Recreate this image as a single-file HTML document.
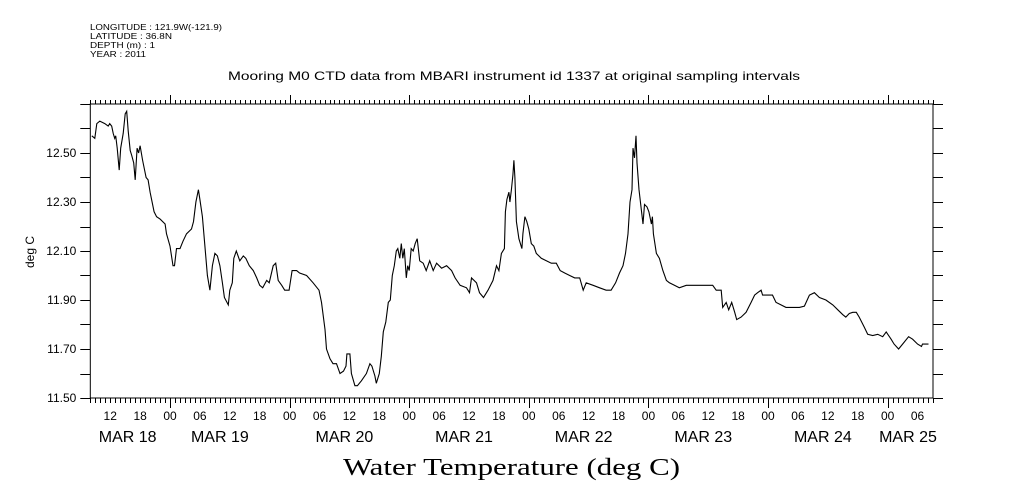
<!DOCTYPE html>
<html><head><meta charset="utf-8"><style>
html,body{margin:0;padding:0;background:#fff;width:1009px;height:504px;overflow:hidden}
svg{display:block}
text{font-family:"Liberation Sans",sans-serif;fill:#000}
</style></head><body>
<svg id="chart" width="1009" height="504" viewBox="0 0 1009 504" xmlns="http://www.w3.org/2000/svg">
<g font-size="8.5">
<text x="90" y="30" textLength="132" lengthAdjust="spacingAndGlyphs">LONGITUDE : 121.9W(-121.9)</text>
<text x="90" y="39" textLength="82" lengthAdjust="spacingAndGlyphs">LATITUDE : 36.8N</text>
<text x="90" y="48" textLength="65" lengthAdjust="spacingAndGlyphs">DEPTH (m) : 1</text>
<text x="90" y="57" textLength="56" lengthAdjust="spacingAndGlyphs">YEAR : 2011</text>
</g>
<text x="228" y="80" font-size="12" textLength="572" lengthAdjust="spacingAndGlyphs">Mooring M0 CTD data from MBARI instrument id 1337 at original sampling intervals</text>
<text transform="translate(34,252) rotate(-90)" font-size="12" text-anchor="middle">deg C</text>
<text x="343" y="475" font-size="24" textLength="337" lengthAdjust="spacingAndGlyphs" style="font-family:'Liberation Serif',serif">Water Temperature (deg C)</text>
<g id="axes"></g>
<g id="series"></g>
</svg>
<script>
// hours since MAR 18 00:00
const hours = [8.3,8.9,9.3,9.9,10.9,11.6,11.9,12.3,12.6,12.9,13.1,13.4,13.8,14.1,14.6,15.0,15.3,15.6,16.0,16.3,16.7,17.0,17.4,17.7,18.0,18.5,18.8,19.2,19.6,20.0,20.4,20.8,21.3,22.0,23.0,23.3,24.0,24.6,24.9,25.3,26.0,26.6,27.3,28.3,28.7,29.2,29.7,30.0,30.5,31.0,31.5,32.0,32.5,33.0,33.5,34.0,34.5,34.9,35.7,36.0,36.5,36.8,37.3,38.0,38.7,39.2,39.9,40.7,41.4,42.0,42.6,43.4,43.9,44.7,45.2,45.7,46.4,47.0,47.9,48.5,49.4,50.0,51.4,52.7,53.9,54.4,55.1,55.4,56.1,56.7,57.4,58.1,58.8,59.3,59.5,60.1,60.4,61.1,61.6,62.4,63.4,64.1,64.5,65.1,65.4,66.0,66.4,66.8,67.3,67.8,68.2,68.6,69.0,69.4,69.7,70.1,70.4,70.7,71.0,71.4,71.7,72.0,72.4,72.8,73.2,73.6,74.1,74.8,75.4,76.1,76.8,77.5,78.5,79.5,80.5,81.2,82.2,83.5,84.1,84.5,85.5,86.1,86.9,87.8,88.8,89.5,90.0,90.5,91.1,91.3,91.6,92.0,92.2,92.5,92.8,93.0,93.2,93.5,94.0,94.6,94.8,95.2,95.6,96.0,96.5,97.0,97.5,98.5,99.5,100.5,101.5,102.3,103.2,104.2,105.2,106.2,106.9,107.5,108.9,110.2,111.5,112.5,113.4,114.2,114.9,115.4,115.9,116.3,116.7,116.9,117.2,117.5,117.7,118.1,118.5,118.9,119.2,119.7,120.1,120.6,120.8,121.0,121.6,122.2,122.9,123.6,124.2,125.2,126.2,127.6,128.9,130.2,131.6,132.9,133.6,134.6,134.9,135.6,136.1,136.7,137.3,137.7,138.6,139.6,140.6,141.3,141.9,142.6,142.9,143.9,144.9,145.6,146.6,147.6,149.0,150.3,151.3,152.3,153.3,154.3,155.6,157.0,158.0,159.0,159.6,160.3,161.0,161.7,162.3,163.3,164.0,165.0,166.0,167.0,167.7,168.7,169.3,170.2,171.0,172.2,173.0,174.0,174.8,175.0,176.2];
const temps = [12.57,12.56,12.62,12.63,12.62,12.61,12.62,12.61,12.58,12.56,12.57,12.52,12.43,12.52,12.58,12.66,12.67,12.59,12.51,12.49,12.46,12.39,12.52,12.50,12.53,12.47,12.44,12.40,12.39,12.34,12.30,12.26,12.24,12.23,12.21,12.17,12.12,12.04,12.04,12.11,12.11,12.14,12.17,12.19,12.22,12.30,12.35,12.31,12.24,12.12,12.00,11.94,12.04,12.09,12.08,12.04,11.97,11.91,11.88,11.94,11.97,12.07,12.10,12.06,12.08,12.07,12.04,12.02,11.99,11.96,11.95,11.98,11.97,12.04,12.05,11.98,11.96,11.94,11.94,12.02,12.02,12.01,12.00,11.97,11.94,11.89,11.78,11.70,11.66,11.64,11.64,11.60,11.61,11.63,11.68,11.68,11.60,11.55,11.55,11.57,11.60,11.64,11.63,11.59,11.56,11.60,11.67,11.77,11.81,11.89,11.90,12.00,12.04,12.10,12.11,12.07,12.13,12.07,12.11,11.99,12.04,12.02,12.11,12.10,12.13,12.15,12.06,12.05,12.02,12.06,12.02,12.05,12.03,12.04,12.02,11.99,11.96,11.95,11.93,11.99,11.97,11.93,11.91,11.94,11.98,12.04,12.02,12.09,12.11,12.26,12.31,12.34,12.30,12.35,12.41,12.47,12.40,12.22,12.15,12.11,12.17,12.24,12.22,12.19,12.13,12.12,12.09,12.07,12.06,12.05,12.05,12.02,12.01,12.00,11.99,11.99,11.94,11.97,11.96,11.95,11.94,11.94,11.97,12.01,12.04,12.09,12.17,12.30,12.35,12.52,12.48,12.57,12.46,12.35,12.28,12.21,12.29,12.28,12.26,12.21,12.24,12.17,12.09,12.07,12.02,11.98,11.97,11.96,11.95,11.96,11.96,11.96,11.96,11.96,11.94,11.94,11.87,11.89,11.86,11.89,11.85,11.82,11.83,11.85,11.89,11.92,11.93,11.94,11.92,11.92,11.92,11.89,11.88,11.87,11.87,11.87,11.875,11.92,11.93,11.91,11.90,11.88,11.86,11.84,11.83,11.845,11.85,11.85,11.83,11.79,11.76,11.755,11.76,11.75,11.77,11.74,11.72,11.70,11.72,11.75,11.74,11.72,11.71,11.72,11.72];
const yTickLabels = ["11.50","11.70","11.90","12.10","12.30","12.50"];
const dayLabels = ["MAR 18","MAR 19","MAR 20","MAR 21","MAR 22","MAR 23","MAR 24","MAR 25"];

const X0=90.3, X1=933, Y0=398, Y1=104;
const H0=8, H1=177.1, V0=11.5, V1=12.7;
const xs = h => X0 + (h-H0)/(H1-H0)*(X1-X0);
const ys = v => Y0 - (v-V0)/(V1-V0)*(Y0-Y1);
const NS="http://www.w3.org/2000/svg";
const axes=document.getElementById('axes');
function mk(tag,attrs,parent){const e=document.createElementNS(NS,tag);for(const k in attrs)e.setAttribute(k,attrs[k]);(parent||axes).appendChild(e);return e;}

const frame=mk('rect',{x:X0,y:Y1,width:X1-X0,height:Y0-Y1,fill:'none',stroke:'#000','stroke-width':1});



let tp='';
for(let h=Math.ceil(H0);h<=H1;h++){
  const x=Math.round(xs(h))+0.5;
  const major=(h%24===0);
  tp+=`M${x},${Y1}V${Y1-(major?9:4)}M${x},${Y0}V${Y0+(major?10:5)}`;
}
for(let i=0;i<=12;i++){
  const y=Math.round(ys(V0+i*0.1))+0.5;
  tp+=`M${X0-10},${y}H${X0}M${X1},${y}H${X1+10}`;
}
const ticks=mk('path',{d:tp,stroke:'#000','stroke-width':1,fill:'none'});



yTickLabels.forEach(s=>{
  const t=mk('text',{x:X0-14,y:ys(parseFloat(s))+4,'font-size':12,'text-anchor':'end'});
  t.textContent=s;
  
  
});
for(let h=12;h<=H1;h+=6){
  const t=mk('text',{x:xs(h),y:420,'font-size':12,'text-anchor':'middle'});
  t.textContent=String(h%24).padStart(2,'0');
  
  
}
dayLabels.forEach((s,i)=>{
  let x=xs(i*24+12)-5;
  if(i===0) x=xs(15.5);
  if(i===1) x=xs(i*24+12)-10;
  if(i===dayLabels.length-1) x=908;
  const t=mk('text',{x:x,y:442,'font-size':16,'text-anchor':'middle'});
  t.textContent=s;
  
  
});

const d=hours.map((h,i)=>(i?'L':'M')+xs(h).toFixed(1)+','+ys(temps[i]).toFixed(1)).join('');
const line=mk('path',{d:d,fill:'none',stroke:'#000','stroke-width':1.1},document.getElementById('series'));


</script>
</body></html>
